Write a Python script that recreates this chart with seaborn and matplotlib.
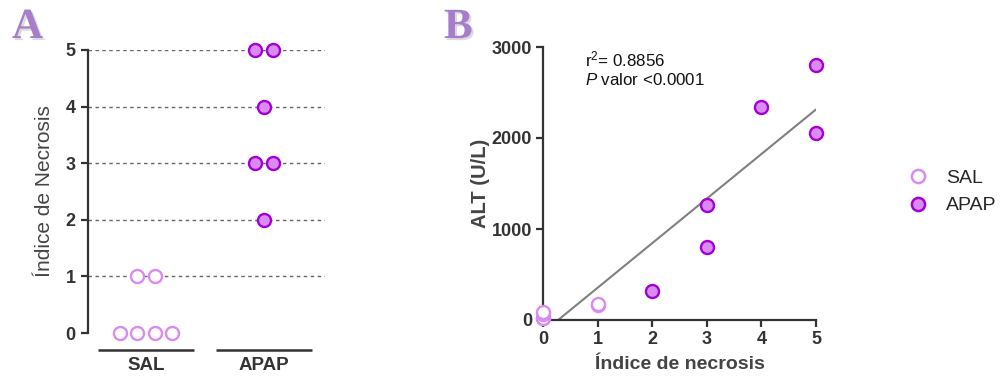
import numpy as np
import pandas as pd
import seaborn as sns
import matplotlib
matplotlib.use("Agg")
import matplotlib.pyplot as plt
from matplotlib.lines import Line2D
import matplotlib.patheffects as pe

# ---- data ----
groups = ["SAL", "APAP"]
sal_necrosis = [0, 0, 0, 0, 1, 1]
apap_necrosis = [5, 5, 4, 3, 3, 2]
sal_alt = [20, 25, 70, 85, 165, 180]
apap_alt = [2800, 2055, 2345, 800, 1265, 320]
r2_text = "r$^2$= 0.8856"
p_text = "$\\it{P}$ valor <0.0001"

sns.set_theme(style="white")
plt.rcParams["font.family"] = ["Liberation Sans", "DejaVu Sans"]
plt.rcParams["mathtext.fontset"] = "custom"
plt.rcParams["mathtext.rm"] = "Liberation Sans"
plt.rcParams["mathtext.it"] = "Liberation Sans:italic"

SAL_EDGE = "#D98BF2"
APAP_FACE = "#D98BF2"
APAP_EDGE = "#A300D6"
AXC = "#333333"
W, H = 1004, 381
MS = 88  # marker area (pt^2)

fig = plt.figure(figsize=(W / 100, H / 100), dpi=100)
fig.patch.set_facecolor("white")


def px_axes(x0, y0, x1, y1):
    return fig.add_axes([x0 / W, 1 - y1 / H, (x1 - x0) / W, (y1 - y0) / H])


def spread(values, center, step=0.148):
    """Symmetric horizontal offsets for equal values within a group."""
    values = np.asarray(values)
    xs = np.zeros(len(values), dtype=float)
    for v in np.unique(values):
        idx = np.where(values == v)[0]
        n = len(idx)
        xs[idx] = center + (np.arange(n) - (n - 1) / 2) * step
    return xs


# ---------------- Panel A ----------------
axA = px_axes(88, 50, 325, 333)
dfA = pd.DataFrame({
    "grupo": ["SAL"] * len(sal_necrosis) + ["APAP"] * len(apap_necrosis),
    "indice": sal_necrosis + apap_necrosis,
})
dfA["xpos"] = np.concatenate([spread(sal_necrosis, 0), spread(apap_necrosis, 1)])

for yv in range(1, 6):
    axA.axhline(yv, color="#666666", lw=1.0, ls=(0, (2.5, 2.5)), zorder=1)

sA = dfA[dfA.grupo == "SAL"]
aA = dfA[dfA.grupo == "APAP"]
sns.scatterplot(data=sA, x="xpos", y="indice", ax=axA, s=MS, color="white",
                edgecolor=SAL_EDGE, linewidth=1.7, zorder=3, clip_on=False)
sns.scatterplot(data=aA, x="xpos", y="indice", ax=axA, s=MS, color=APAP_FACE,
                edgecolor=APAP_EDGE, linewidth=1.7, zorder=3, clip_on=False)

axA.set_xlim(-0.4915, 1.517)
axA.set_ylim(0, 5)
axA.set_yticks(range(0, 6))
axA.set_xticks([])
axA.set_xlabel("")
axA.set_ylabel("Índice de Necrosis", fontsize=15, color="#444444", labelpad=8.5)
for s in ["top", "right", "bottom"]:
    axA.spines[s].set_visible(False)
axA.spines["left"].set_color(AXC)
axA.spines["left"].set_linewidth(1.6)
axA.tick_params(axis="y", left=True, length=5, width=1.6, color=AXC, pad=4,
                labelsize=13, labelcolor=AXC)
for t in axA.get_yticklabels():
    t.set_fontweight("bold")

# group underline bars and labels
trA = axA.get_xaxis_transform()
for i, g in enumerate(groups):
    axA.plot([i - 0.41, i + 0.41], [-0.06, -0.06], transform=trA, color=AXC,
             lw=1.8, clip_on=False, solid_capstyle="butt")
    axA.text(i, -0.115, g, transform=trA, ha="center", va="center",
             fontsize=13.5, fontweight="bold", color=AXC)

# ---------------- Panel B ----------------
axB = px_axes(543, 47, 816, 320)
dfB = pd.DataFrame({
    "indice": sal_necrosis + apap_necrosis,
    "alt": sal_alt + apap_alt,
    "grupo": ["SAL"] * len(sal_alt) + ["APAP"] * len(apap_alt),
})
sns.regplot(data=dfB, x="indice", y="alt", ax=axB, scatter=False, ci=None,
            color="#808080", line_kws={"lw": 1.5, "zorder": 2})
sB = dfB[dfB.grupo == "SAL"]
aB = dfB[dfB.grupo == "APAP"]
sns.scatterplot(data=sB, x="indice", y="alt", ax=axB, s=MS, color="white",
                edgecolor=SAL_EDGE, linewidth=1.7, zorder=3, clip_on=False)
sns.scatterplot(data=aB, x="indice", y="alt", ax=axB, s=MS, color=APAP_FACE,
                edgecolor=APAP_EDGE, linewidth=1.7, zorder=3, clip_on=False)

axB.set_xlim(0, 5)
axB.set_ylim(0, 3000)
axB.set_xticks(range(0, 6))
axB.set_yticks([0, 1000, 2000, 3000])
axB.set_xlabel("Índice de necrosis", fontsize=14, fontweight="bold", color="#444444", labelpad=6)
axB.set_ylabel("ALT (U/L)", fontsize=14.5, fontweight="bold", color="#444444", labelpad=1)
for s in ["top", "right"]:
    axB.spines[s].set_visible(False)
for s in ["left", "bottom"]:
    axB.spines[s].set_color(AXC)
    axB.spines[s].set_linewidth(1.6)
axB.tick_params(axis="both", left=True, bottom=True, length=5, width=1.6,
                color=AXC, pad=3, labelsize=13, labelcolor=AXC)
for t in axB.get_xticklabels() + axB.get_yticklabels():
    t.set_fontweight("bold")

axB.text(0.155, 0.955, r2_text, transform=axB.transAxes, fontsize=12.2,
         color="#111111", va="center", ha="left")
axB.text(0.155, 0.88, p_text, transform=axB.transAxes, fontsize=12.2,
         color="#111111", va="center", ha="left")

# ---------------- Legend ----------------
handles = [
    Line2D([], [], ls="", marker="o", markersize=9.5, markerfacecolor="white",
           markeredgecolor=SAL_EDGE, markeredgewidth=1.8, label="SAL"),
    Line2D([], [], ls="", marker="o", markersize=9.5, markerfacecolor=APAP_FACE,
           markeredgecolor=APAP_EDGE, markeredgewidth=1.8, label="APAP"),
]
fig.legend(handles=handles, loc="center left", bbox_to_anchor=(901 / W, 1 - 192 / H),
           frameon=False, fontsize=14, handletextpad=0.9, labelspacing=0.5,
           handlelength=1.0, borderaxespad=0)

# ---------------- Panel letters ----------------
for letter, xp in [("A", 12), ("B", 444)]:
    fig.text(xp / W, 1 - 38 / H, letter, fontsize=31, fontweight="bold",
             family=["Liberation Serif"], color="#A67DC9", ha="left", va="baseline",
             path_effects=[pe.SimplePatchShadow(offset=(1.5, -1.5), shadow_rgbFace="#999999", alpha=0.35),
                           pe.Normal()])

fig.savefig("out.png", dpi=100, facecolor="white")
